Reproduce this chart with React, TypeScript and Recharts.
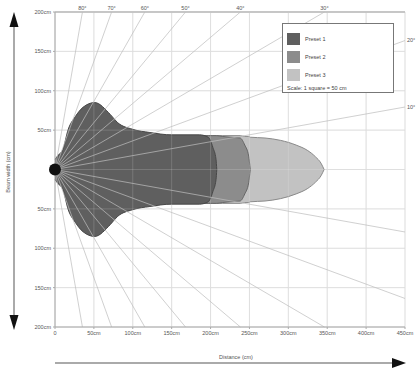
import {
  ComposedChart,
  Area,
  XAxis,
  YAxis,
  CartesianGrid,
  ReferenceLine,
  ReferenceDot,
  Legend,
} from "recharts";

// distance from the lamp (cm) and half beam widths (cm) for each preset
const distance = [0, 4, 10, 17, 26, 36, 51, 71, 80, 100, 122, 150, 186, 197, 203, 207, 208, 215, 225, 238, 244, 249, 251, 270, 290, 310, 325, 335, 342, 346];
const group1Half = [13, 18, 25, 51, 67, 79, 85, 70, 60, 51, 47, 44, 44, 41, 28, 13, 0, null, null, null, null, null, null, null, null, null, null, null, null, null];
const group2Half = [null, null, null, null, null, null, null, null, null, null, null, 43, 43, 43, 43, 43, 43, 42, 41, 40, 31, 17, 0, null, null, null, null, null, null, null];
const group3Half = [null, null, null, null, null, null, null, null, null, null, null, 43, 43, 43, 43, 43, 43, 43, 43, 43, 42, 42, 41, 40, 37, 31, 24, 16, 8, 0];

const groupNames = ["Preset 1", "Preset 2", "Preset 3"];
const groupColors = ["#5f5f5f", "#8c8c8c", "#c2c2c2"];
const groupStrokes = ["#474747", "#666666", "#8a8a8a"];

const xTicks = [0, 50, 100, 150, 200, 250, 300, 350, 400, 450];
const yTicks = [-200, -150, -100, -50, 0, 50, 100, 150, 200];
const topAngles = [80, 70, 60, 50, 40, 30];
const rightAngles = [20, 10];
const fanAngles = [10, 20, 30, 40, 50, 60, 70, 80];

const X_MAX = 450;
const Y_MAX = 200;
const rad = (a: number) => (a * Math.PI) / 180;

const range = (h: number | null) => (h == null ? null : [-h, h]);
const data = distance.map((d, i) => ({
  x: d,
  g1: range(group1Half[i]),
  g2: range(group2Half[i]),
  g3: range(group3Half[i]),
}));

// where the angle rays leave the plot
const topMarks = topAngles.map((a) => ({ a, x: Y_MAX / Math.tan(rad(a)) }));
const rightMarks = rightAngles.map((a) => ({ a, y: X_MAX * Math.tan(rad(a)) }));

const rays: { x: number; y: number }[] = [];
fanAngles.forEach((a) => {
  const t = Math.tan(rad(a));
  [1, -1].forEach((s) => {
    if (X_MAX * t <= Y_MAX) rays.push({ x: X_MAX, y: s * X_MAX * t });
    else rays.push({ x: Y_MAX / t, y: s * Y_MAX });
  });
});

const tickStyle = { fontSize: 5.5, fill: "#555" };

const LegendBox = () => (
  <div
    style={{
      width: 112,
      height: 70,
      border: "1.5px solid #777",
      background: "#fff",
      boxSizing: "border-box",
      padding: "6px 0 0 4px",
      fontSize: 5.5,
      color: "#444",
      fontFamily: "Liberation Sans, Arial, sans-serif",
    }}
  >
    {groupNames.map((n, i) => (
      <div key={n} style={{ display: "flex", alignItems: "center", height: 18 }}>
        <div style={{ width: 13, height: 12, background: groupColors[i], marginRight: 5 }} />
        <span style={{ color: "#444" }}>{n}</span>
      </div>
    ))}
    <div style={{ marginTop: 1 }}>Scale: 1 square = 50 cm</div>
  </div>
);

export default function App() {
  return (
    <div style={{ position: "absolute", left: 0, top: 0, width: 418, height: 368, background: "#fff", fontFamily: "Liberation Sans, Arial, sans-serif" }}>
      <ComposedChart
        width={418}
        height={368}
        data={data}
        margin={{ top: 12, right: 13, bottom: 25, left: 0 }}
      >
        <CartesianGrid stroke="#cfcfcf" strokeWidth={0.8} horizontalValues={yTicks} verticalValues={xTicks} />
        <XAxis
          dataKey="x"
          type="number"
          domain={[0, X_MAX]}
          ticks={xTicks}
          interval={0}
          tick={tickStyle}
          tickSize={2}
          stroke="#aaa"
          height={16}
          tickFormatter={(v) => (v === 0 ? "0" : `${v}cm`)}
        />
        <YAxis
          type="number"
          domain={[-Y_MAX, Y_MAX]}
          ticks={yTicks}
          interval={0}
          tick={tickStyle}
          tickSize={2}
          stroke="#aaa"
          width={55}
          tickFormatter={(v) => (v === 0 ? "" : `${Math.abs(v)}cm`)}
        />
        <ReferenceLine y={Y_MAX} stroke="#999" strokeWidth={1} />
        <Area dataKey="g3" name={groupNames[2]} type="monotone" fill={groupColors[2]} fillOpacity={1} stroke={groupStrokes[2]} strokeWidth={1} isAnimationActive={false} dot={false} activeDot={false} />
        <Area dataKey="g2" name={groupNames[1]} type="monotone" fill={groupColors[1]} fillOpacity={1} stroke={groupStrokes[1]} strokeWidth={1} isAnimationActive={false} dot={false} activeDot={false} />
        <Area dataKey="g1" name={groupNames[0]} type="monotone" fill={groupColors[0]} fillOpacity={1} stroke={groupStrokes[0]} strokeWidth={1} isAnimationActive={false} dot={false} activeDot={false} />
        {xTicks.map((v) => (
          <ReferenceLine key={"gx" + v} x={v} stroke="#fff" strokeOpacity={0.2} strokeWidth={0.8} />
        ))}
        {yTicks.map((v) => (
          <ReferenceLine key={"gy" + v} y={v} stroke="#fff" strokeOpacity={0.2} strokeWidth={0.8} />
        ))}
        {rays.map((p, i) => (
          <ReferenceLine
            key={"ray" + i}
            segment={[{ x: 0, y: 0 }, p]}
            stroke="#bdbdbd"
            strokeOpacity={0.8}
            strokeWidth={0.9}
          />
        ))}
        {topMarks.map((m) => (
          <ReferenceDot
            key={"t" + m.a}
            x={m.x}
            y={Y_MAX}
            r={0}
            ifOverflow="visible"
            label={{ value: `${m.a}°`, position: "top", offset: 2, fontSize: 5.5, fill: "#555" }}
          />
        ))}
        {rightMarks.map((m) => (
          <ReferenceDot
            key={"r" + m.a}
            x={X_MAX}
            y={m.y}
            r={0}
            ifOverflow="visible"
            label={{ value: `${m.a}°`, position: "right", offset: 2, fontSize: 5.5, fill: "#555" }}
          />
        ))}
        <ReferenceDot x={0} y={0} r={6} fill="#111" stroke="none" ifOverflow="visible" />
        <Legend
          layout="vertical"
          align="center"
          verticalAlign="middle"
          wrapperStyle={{ left: 282, top: 23, width: 114 }}
          content={() => <LegendBox />}
        />
      </ComposedChart>
      <svg width={418} height={368} style={{ position: "absolute", left: 0, top: 0, pointerEvents: "none" }}>
        <line x1={14} y1={24} x2={14} y2={318} stroke="#aaa" strokeWidth={2} />
        <polygon points="14,12 9.5,27 18.5,27" fill="#111" />
        <polygon points="14,330 9.5,315 18.5,315" fill="#111" />
        <text x={10} y={172} transform="rotate(-90 10 172)" textAnchor="middle" fontSize={5.5} fill="#555">
          Beam width (cm)
        </text>
        <line x1={55} y1={363} x2={396} y2={363} stroke="#aaa" strokeWidth={2} />
        <polygon points="406,363 392,358 392,368" fill="#111" />
        <text x={236} y={359} textAnchor="middle" fontSize={5.5} fill="#555">
          Distance (cm)
        </text>
      </svg>
    </div>
  );
}
